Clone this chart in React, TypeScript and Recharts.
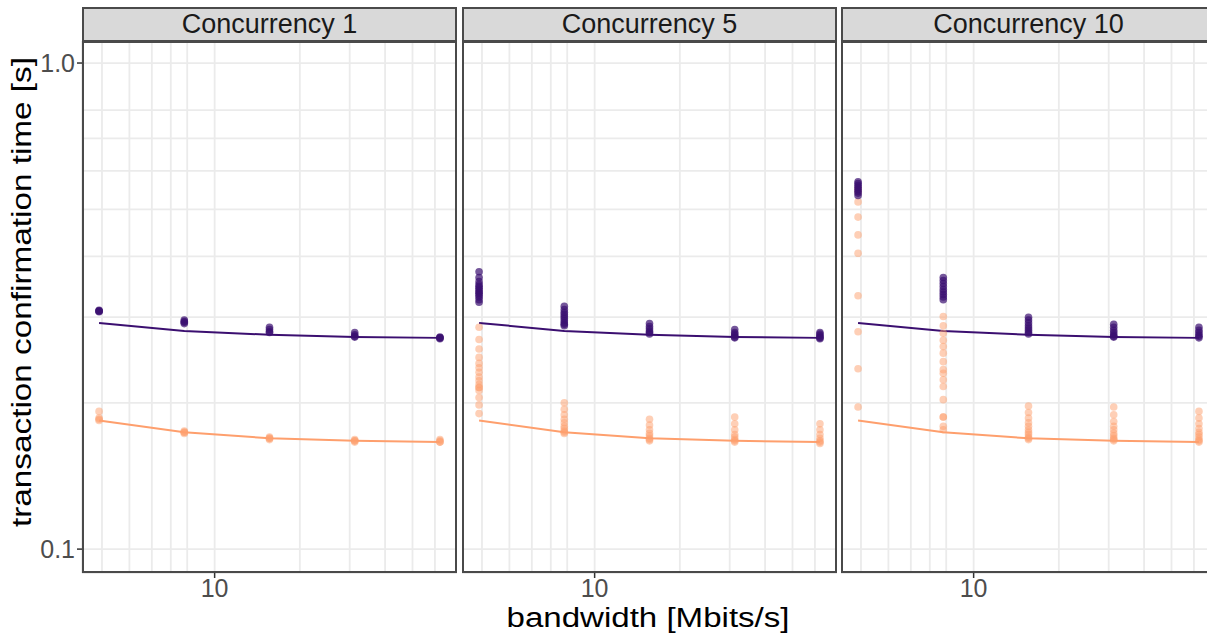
import { ComposedChart, Line, Scatter, XAxis, YAxis, CartesianGrid } from 'recharts'

// bandwidths [Mbits/s] the runs were made at
const bandwidths = [3.90625, 7.8125, 15.625, 31.25, 62.5]
const panelTitles = ['Concurrency 1', 'Concurrency 5', 'Concurrency 10']

// fitted curves, same in every facet
const fitPurple = [0.292, 0.281, 0.276, 0.273, 0.272]
const fitOrange = [0.184, 0.174, 0.169, 0.167, 0.166]

// measured confirmation times, one list per bandwidth
const c1Purple = [
  [0.309, 0.31, 0.308, 0.309],
  [0.296, 0.293, 0.291, 0.294],
  [0.286, 0.283, 0.28, 0.279],
  [0.279, 0.276, 0.274, 0.273],
  [0.273, 0.272, 0.271, 0.272],
]
const c1Orange = [
  [0.192, 0.186, 0.185, 0.184],
  [0.175, 0.174, 0.174, 0.173],
  [0.17, 0.169, 0.169, 0.168],
  [0.168, 0.167, 0.167, 0.166],
  [0.168, 0.167, 0.166, 0.166],
]
const c5Purple = [
  [0.372, 0.362, 0.355, 0.35, 0.347, 0.344, 0.341, 0.338, 0.336, 0.333, 0.33, 0.326, 0.322],
  [0.316, 0.311, 0.307, 0.304, 0.301, 0.298, 0.295, 0.292, 0.29, 0.288],
  [0.291, 0.287, 0.284, 0.281, 0.279, 0.277],
  [0.283, 0.279, 0.277, 0.275, 0.273, 0.272],
  [0.279, 0.277, 0.275, 0.273, 0.272, 0.271],
]
const c5Orange = [
  [0.286, 0.27, 0.258, 0.248, 0.241, 0.236, 0.231, 0.226, 0.222, 0.218, 0.215, 0.215, 0.212, 0.205, 0.198, 0.19],
  [0.2, 0.194, 0.189, 0.185, 0.182, 0.179, 0.177, 0.175, 0.174, 0.173],
  [0.185, 0.18, 0.176, 0.173, 0.171, 0.169, 0.168, 0.167],
  [0.187, 0.181, 0.176, 0.172, 0.17, 0.168, 0.167, 0.166],
  [0.181, 0.176, 0.172, 0.169, 0.167, 0.166, 0.165],
]
const c10Purple = [
  [0.57, 0.565, 0.56, 0.555, 0.55, 0.545, 0.54, 0.534],
  [0.362, 0.357, 0.352, 0.347, 0.342, 0.338, 0.334, 0.33, 0.326],
  [0.3, 0.296, 0.292, 0.288, 0.285, 0.282, 0.279, 0.277],
  [0.29, 0.286, 0.282, 0.279, 0.276, 0.274, 0.273],
  [0.286, 0.282, 0.279, 0.276, 0.274, 0.272],
]
const c10Orange = [
  [0.552, 0.543, 0.518, 0.482, 0.443, 0.406, 0.332, 0.28, 0.235, 0.196],
  [0.301, 0.288, 0.278, 0.269, 0.261, 0.253, 0.243, 0.234, 0.23, 0.223, 0.216, 0.203, 0.187, 0.187, 0.179, 0.176],
  [0.197, 0.191, 0.186, 0.182, 0.179, 0.176, 0.174, 0.172, 0.17, 0.169, 0.168],
  [0.196, 0.189, 0.183, 0.179, 0.176, 0.173, 0.171, 0.169, 0.168, 0.167],
  [0.192, 0.186, 0.181, 0.177, 0.174, 0.172, 0.17, 0.168, 0.167, 0.166],
]
const measured = [
  { purple: c1Purple, orange: c1Orange },
  { purple: c5Purple, orange: c5Orange },
  { purple: c10Purple, orange: c10Orange },
]

const xDomain = [3.4, 71.8]
const yDomain = [0.0893, 1.11]
const xGridTicks = [4, 5, 6, 7, 8, 9, 10, 20, 30, 40, 50, 60]
const yGridTicks = [0.1, 0.2, 0.3, 0.4, 0.5, 0.6, 0.7, 0.8, 0.9, 1.0]

const PURPLE = '#3B0F70'
const ORANGE = '#FE9F6D'

const plotLefts = [82, 462, 841]
const plotWidth = 375
const plotTop = 41
const plotHeight = 532
const yAxisWidth = 82
const font = '"Liberation Sans", Arial, sans-serif'

const toPoints = (clusters: number[][]) =>
  clusters.flatMap((ys, i) => ys.map((y) => ({ x: bandwidths[i], y })))
const toLine = (ys: number[]) => ys.map((y, i) => ({ x: bandwidths[i], y }))

const dot = (color: string, opacity: number) => (props: any) =>
  <circle cx={props.cx} cy={props.cy} r={3.8} fill={color} fillOpacity={opacity} />

function Panel({ idx }: { idx: number }) {
  const showY = idx === 0
  const left = showY ? 0 : plotLefts[idx]
  const width = (showY ? yAxisWidth : 0) + plotWidth
  const m = measured[idx]
  return (
    <div style={{ position: 'absolute', left, top: plotTop }}>
      <ComposedChart width={width} height={plotHeight + 45} margin={{ top: 0, right: 0, bottom: 0, left: 0 }}>
        <XAxis
          xAxisId="main"
          dataKey="x"
          type="number"
          scale="log"
          domain={xDomain}
          allowDataOverflow
          ticks={[10]}
          interval={0}
          height={45}
          tickSize={5}
          tickMargin={1}
          axisLine={false}
          tickLine={{ stroke: '#333333', strokeWidth: 1.5 }}
          tick={{ fill: '#4D4D4D', fontSize: 25, fontFamily: font }}
        />
        <YAxis
          yAxisId="main"
          type="number"
          scale="log"
          domain={yDomain}
          allowDataOverflow
          ticks={[0.1, 1.0]}
          interval={0}
          hide={!showY}
          width={showY ? yAxisWidth : 0}
          tickSize={5}
          tickMargin={2}
          axisLine={false}
          tickLine={{ stroke: '#333333', strokeWidth: 1.5 }}
          tick={{ fill: '#4D4D4D', fontSize: 25, fontFamily: font }}
          tickFormatter={(v: number) => v.toFixed(1)}
        />
        <XAxis xAxisId="grid" orientation="top" height={0} dataKey="x" type="number" scale="log" domain={xDomain} allowDataOverflow ticks={xGridTicks} hide />
        <YAxis yAxisId="grid" orientation="right" width={0} type="number" scale="log" domain={yDomain} allowDataOverflow ticks={yGridTicks} hide />
        <CartesianGrid xAxisId="grid" yAxisId="grid" stroke="#EBEBEB" strokeWidth={1.8} />
        <Scatter xAxisId="main" yAxisId="main" data={toPoints(m.orange)} dataKey="y" shape={dot(ORANGE, 0.5)} isAnimationActive={false} />
        <Scatter xAxisId="main" yAxisId="main" data={toPoints(m.purple)} dataKey="y" shape={dot(PURPLE, 0.7)} isAnimationActive={false} />
        <Line xAxisId="main" yAxisId="main" data={toLine(fitOrange)} dataKey="y" type="linear" stroke={ORANGE} strokeWidth={2} dot={false} isAnimationActive={false} />
        <Line xAxisId="main" yAxisId="main" data={toLine(fitPurple)} dataKey="y" type="linear" stroke={PURPLE} strokeWidth={2} dot={false} isAnimationActive={false} />
      </ComposedChart>
    </div>
  )
}

export default function App() {
  return (
    <div style={{ position: 'absolute', left: 0, top: 0, width: 1207, height: 636, overflow: 'hidden', background: '#fff', fontFamily: font }}>
      <svg width={1207} height={636} style={{ position: 'absolute', left: 0, top: 0 }}>
        <text
          transform="translate(22,292) rotate(-90)"
          textAnchor="middle"
          dominantBaseline="central"
          fontSize={27}
          fontFamily={font}
          fill="#000"
          textLength={470}
          lengthAdjust="spacingAndGlyphs"
        >
          transaction confirmation time [s]
        </text>
        <text x={648} y={618} textAnchor="middle" dominantBaseline="central" fontSize={27} fontFamily={font} fill="#000" textLength={283} lengthAdjust="spacingAndGlyphs">
          bandwidth [Mbits/s]
        </text>
      </svg>
      {panelTitles.map((t, i) => (
        <Panel key={t} idx={i} />
      ))}
      {panelTitles.map((t, i) => (
        <div key={'b' + t}>
          <div
            style={{
              position: 'absolute', left: plotLefts[i], top: 7, width: plotWidth, height: 35, boxSizing: 'border-box',
              background: '#D9D9D9', border: '2px solid #4A4A4A', color: '#1A1A1A', fontSize: 27,
              display: 'flex', alignItems: 'center', justifyContent: 'center',
            }}
          >
            {t}
          </div>
          <div
            style={{
              position: 'absolute', left: plotLefts[i], top: plotTop, width: plotWidth, height: plotHeight,
              boxSizing: 'border-box', border: '2px solid #4A4A4A', pointerEvents: 'none',
            }}
          />
        </div>
      ))}
    </div>
  )
}
